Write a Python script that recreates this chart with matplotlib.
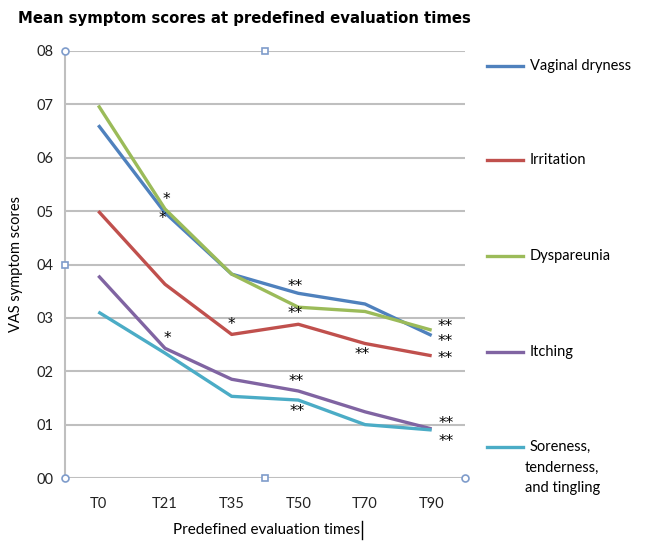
import matplotlib
matplotlib.use("Agg")
import matplotlib.pyplot as plt
from matplotlib.lines import Line2D

# Data
times = ["T0", "T21", "T35", "T50", "T70", "T90"]
vaginal_dryness = [6.61, 4.97, 3.82, 3.46, 3.26, 2.67]
irritation = [5.0, 3.63, 2.69, 2.88, 2.52, 2.29]
dyspareunia = [6.98, 5.04, 3.82, 3.20, 3.12, 2.77]
itching = [3.79, 2.43, 1.85, 1.63, 1.24, 0.92]
soreness = [3.11, 2.34, 1.53, 1.46, 1.00, 0.90]

series_names = ["Vaginal dryness", "Irritation", "Dyspareunia", "Itching",
                "Soreness,\ntenderness,\nand tingling"]
series_values = [vaginal_dryness, irritation, dyspareunia, itching, soreness]
colors = ["#4F81BD", "#C0504D", "#9BBB59", "#8064A2", "#4BACC6"]
# draw order like the original (green over blue)
draw_order = [3, 4, 1, 0, 2]

# significance marks: (x index, y value, text)
marks_x = [1.02, 0.96, 2.95, 2.95, 2.0, 3.96, 5.2, 5.2, 5.2, 1.03, 2.97, 2.99, 5.22, 5.22]
marks_y = [5.22, 4.87, 3.58, 3.09, 2.88, 2.32, 2.84, 2.55, 2.24, 2.62, 1.80, 1.25, 1.02, 0.68]
marks_t = ["*", "*", "**", "**", "*", "**", "**", "**", "**", "*", "**", "**", "**", "**"]

W, H = 651, 541
fig = plt.figure(figsize=(W / 100, H / 100), dpi=100)
ax = fig.add_axes([65 / W, 1 - 478 / H, 400 / W, 427 / H])

grid_col = "#BFBFBF"
x = list(range(len(times)))
for i in draw_order:
    ax.plot(x, series_values[i], color=colors[i], lw=2.4, solid_capstyle="butt",
            zorder=3)

for mx, my, mt in zip(marks_x, marks_y, marks_t):
    ax.text(mx, my, mt, ha="center", va="center", fontsize=11,
            family="DejaVu Sans", zorder=4)

ax.set_xlim(-0.5, 5.5)
ax.set_ylim(0, 8)
ax.set_yticks(range(9))
ax.set_yticklabels(["%02d" % v for v in range(9)])
ax.set_xticks(x)
ax.set_xticklabels(times)
ax.yaxis.grid(True, color=grid_col, lw=1.5)
ax.set_axisbelow(True)
for s in ["top", "right", "bottom"]:
    ax.spines[s].set_visible(False)
ax.spines["left"].set_color(grid_col)
ax.spines["left"].set_linewidth(1.5)
ax.tick_params(axis="both", length=0, labelsize=10.5, labelcolor="#222222")
ax.tick_params(axis="x", pad=14)
ax.tick_params(axis="y", pad=8)
for lab in ax.get_xticklabels() + ax.get_yticklabels():
    lab.set_family("Lato")

# selection handles on the plot area
hx = [0, 0.5, 0, 0, 0.5, 1]
hy = [1, 1, 0.5, 0, 0, 0]
hm = ["o", "s", "s", "o", "s", "o"]
for a, b, m in zip(hx, hy, hm):
    ax.plot(a, b, marker=m, ms=5, mfc="white", mec="#7F9CCB", mew=1.2,
            transform=ax.transAxes, clip_on=False, zorder=5)

ax.set_ylabel("VAS symptom scores", fontsize=10.5, family="Lato", labelpad=10)
fig.text(267 / W, 1 - 530 / H, "Predefined evaluation times", fontsize=11,
         family="Lato", ha="center", va="center")
# text cursor after the label
fig.add_artist(Line2D([362 / W, 362 / W], [1 - 521 / H, 1 - 539 / H], color="black",
                      lw=1, transform=fig.transFigure))

fig.text(18 / W, 1 - 18 / H, "Mean symptom scores at predefined evaluation times",
         fontsize=10.7, fontweight="bold", family="DejaVu Sans", va="center")

# legend on the right
leg_y = [66, 160, 256, 352, 447]
for name, col, ly in zip(series_names, colors, leg_y):
    yy = 1 - ly / H
    fig.add_artist(Line2D([487 / W, 523 / W], [yy, yy], color=col, lw=2.4,
                          transform=fig.transFigure))
    lines = name.split("\n")
    for k, part in enumerate(lines):
        lx = 530 if k == 0 else 525
        fig.text(lx / W, 1 - (ly + 20.5 * k) / H, part, fontsize=10.5,
                 family="Lato", va="center")

fig.savefig("out.png", dpi=100)
